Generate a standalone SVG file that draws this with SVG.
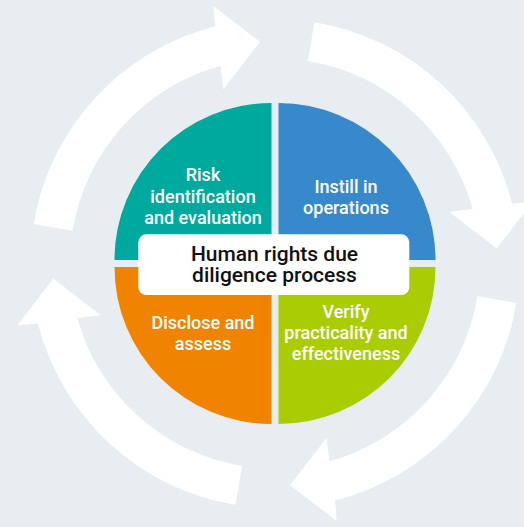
<svg xmlns="http://www.w3.org/2000/svg" width="524" height="527" viewBox="0 0 524 527">
<defs>
<style>
.bg{fill:#E8EDF2}
.arrow{fill:#FFFFFF}
.q{font-family:Roboto,"Liberation Sans",sans-serif;font-size:18px;font-weight:500;fill:#FFFFFF;text-anchor:middle}
.c{font-family:Roboto,"Liberation Sans",sans-serif;font-size:21px;font-weight:500;fill:#111111;text-anchor:middle}
</style>
<path id="arr" d="M 33.7 224 A 244.5 244.5 0 0 1 215 26.5 L 213.3 6 L 260 41.7 L 223.3 89.3 L 220.6 65.8 A 205 205 0 0 0 72.6 230.7 Z"/>
</defs>
<rect class="bg" x="0" y="0" width="524" height="527"/>
<g id="connectors" class="arrow">
<use href="#arr"/>
<use href="#arr" transform="rotate(90 275 263.5)"/>
<use href="#arr" transform="rotate(180 275 263.5)"/>
<use href="#arr" transform="rotate(270 275 263.5)"/>
</g>
<g id="risk">
<path d="M 271.5 260 L 114.5 260 A 157 157 0 0 1 271.5 103 Z" fill="#00A99D"/>
<text class="q" x="203" y="181">Risk</text>
<text class="q" x="203" y="202.7">identification</text>
<text class="q" x="203" y="224">and evaluation</text>
</g>
<g id="instill">
<path d="M 278.5 260 L 278.5 103 A 157 157 0 0 1 435.5 260 Z" fill="#3789CC"/>
<text class="q" x="346" y="193">Instill in</text>
<text class="q" x="346" y="213.5">operations</text>
</g>
<g id="verify">
<path d="M 278.5 267 L 435.5 267 A 157 157 0 0 1 278.5 424 Z" fill="#AACC03"/>
<text class="q" x="346" y="318.3">Verify</text>
<text class="q" x="346" y="338.7">practicality and</text>
<text class="q" x="346" y="360">effectiveness</text>
</g>
<g id="disclose">
<path d="M 271.5 267 L 271.5 424 A 157 157 0 0 1 114.5 267 Z" fill="#F08300"/>
<text class="q" x="203" y="329">Disclose and</text>
<text class="q" x="203" y="350">assess</text>
</g>
<g id="center">
<rect x="138.3" y="234.3" width="271" height="60.7" rx="8" fill="#FFFFFF"/>
<text class="c" x="274.5" y="261">Human rights due</text>
<text class="c" x="274.5" y="282.3">diligence process</text>
</g>
</svg>
